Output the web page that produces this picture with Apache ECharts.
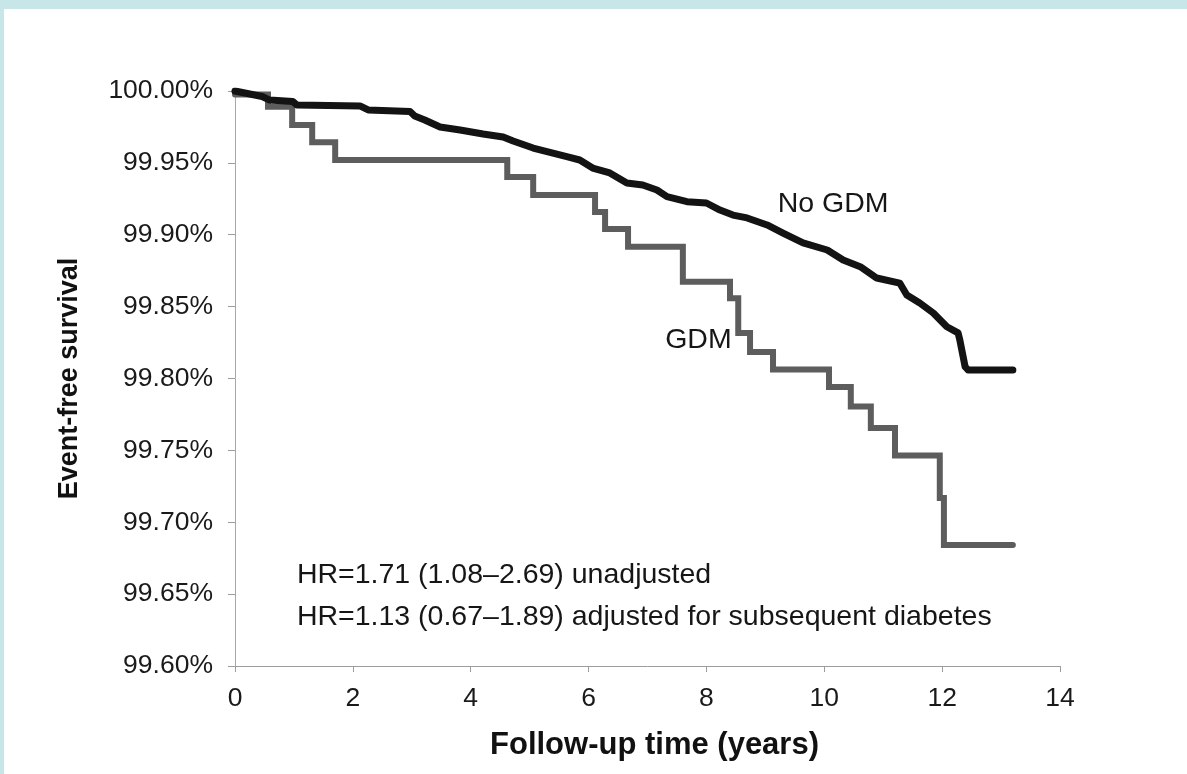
<!DOCTYPE html>
<html>
<head>
<meta charset="utf-8">
<title>Event-free survival by GDM status</title>
<script src="https://cdn.jsdelivr.net/npm/echarts@6/dist/echarts.min.js"></script>
<style>
  html, body { margin: 0; padding: 0; background: #ffffff; }
  #wrap { position: relative; width: 1187px; height: 774px; overflow: hidden; background: #ffffff; }
  #chart { position: absolute; left: 0; top: 0; width: 1187px; height: 774px; }
  .band-top { position: absolute; left: 0; top: 0; width: 1187px; height: 9px; background: #c8e5e8; }
  .band-left { position: absolute; left: 0; top: 0; width: 4px; height: 774px; background: #c8e5e8; }
</style>
</head>
<body>
<div id="wrap">
  <div id="chart"></div>
  <div class="band-top"></div>
  <div class="band-left"></div>
</div>
<script>
// Follow-up time (years) at each change of the survival estimate
const noGdmTime = [0, 0.46, 0.59, 0.98, 1.05, 2.12, 2.26, 2.97, 3.05, 3.22, 3.48, 3.82, 4.21, 4.55, 4.72,
  5.06, 5.63, 5.85, 6.07, 6.36, 6.65, 6.92, 7.16, 7.33, 7.67, 8.00, 8.23, 8.45, 8.69, 9.03, 9.30,
  9.64, 10.05, 10.32, 10.61, 10.89, 11.28, 11.40, 11.62, 11.85, 12.08, 12.27, 12.30, 12.39, 12.44, 13.2];
// Event-free survival (%) for women without GDM
const noGdmSurvival = [100, 99.9962, 99.9937, 99.9927, 99.9903, 99.9896, 99.9868, 99.9857, 99.9826, 99.9798,
  99.9750, 99.9729, 99.9701, 99.9680, 99.9652, 99.9603, 99.9543, 99.9520, 99.9464, 99.9430, 99.9360,
  99.9346, 99.9311, 99.9265, 99.9230, 99.9221, 99.9172, 99.9137, 99.9117, 99.9068, 99.9012, 99.8943,
  99.8894, 99.8824, 99.8778, 99.8699, 99.8664, 99.8581, 99.8525, 99.8456, 99.8360, 99.8317, 99.8268,
  99.8082, 99.8059, 99.8059];

// Kaplan-Meier step times (years) for women with GDM
const gdmTime = [0, 0.56, 0.97, 1.31, 1.70, 4.62, 5.06, 6.11, 6.28, 6.67, 7.60, 8.40, 8.54, 8.74, 9.13,
  10.08, 10.45, 10.79, 11.20, 11.96, 12.03, 13.2];
// Event-free survival (%) after each GDM step
const gdmSurvival = [99.9975, 99.9891, 99.9763, 99.9643, 99.9520, 99.9402, 99.9277, 99.9158, 99.9040, 99.8917,
  99.8673, 99.8558, 99.8317, 99.8184, 99.8063, 99.7941, 99.7805, 99.7656, 99.7464, 99.7169, 99.6842, 99.6842];

// Axis ticks
const xTicks = [0, 2, 4, 6, 8, 10, 12, 14];
const yTicks = [99.60, 99.65, 99.70, 99.75, 99.80, 99.85, 99.90, 99.95, 100.00];

// Text drawn inside the plot
const curveNames = ['No GDM', 'GDM'];
const hazardNotes = [
  'HR=1.71 (1.08\u20132.69) unadjusted',
  'HR=1.13 (0.67\u20131.89) adjusted for subsequent diabetes'
];

const FONT = '"Liberation Sans", Arial, Helvetica, sans-serif';
const pair = (xs, ys) => xs.map((x, i) => [x, ys[i]]);

const chart = echarts.init(document.getElementById('chart'), null, { renderer: 'canvas' });

const option = {
  animation: false,
  backgroundColor: 'transparent',
  grid: { left: 235, right: 127, top: 91, bottom: 108, containLabel: false },
  xAxis: {
    type: 'value',
    min: xTicks[0],
    max: xTicks[xTicks.length - 1],
    interval: 2,
    name: 'Follow-up time (years)',
    nameLocation: 'middle',
    nameGap: 64,
    nameTextStyle: { fontFamily: FONT, fontSize: 31, fontWeight: 'bold', color: '#111', padding: [0, 0, 0, 14] },
    axisLine: { show: true, lineStyle: { color: '#9c9c9c', width: 1 } },
    axisTick: { show: true, length: 6, lineStyle: { color: '#9c9c9c' } },
    axisLabel: { fontFamily: FONT, fontSize: 26.5, color: '#1a1a1a', margin: 19 },
    splitLine: { show: false }
  },
  yAxis: {
    type: 'value',
    min: yTicks[0],
    max: yTicks[yTicks.length - 1],
    interval: 0.05,
    name: 'Event-free survival',
    nameLocation: 'middle',
    nameRotate: 90,
    nameGap: 152,
    nameTextStyle: { fontFamily: FONT, fontSize: 27, fontWeight: 'bold', color: '#111' },
    axisLine: { show: true, lineStyle: { color: '#a8a8a8', width: 1 } },
    axisTick: { show: true, length: 7, lineStyle: { color: '#9c9c9c' } },
    axisLabel: {
      fontFamily: FONT, fontSize: 26.5, color: '#1a1a1a', margin: 22,
      formatter: v => v.toFixed(2) + '%'
    },
    splitLine: { show: false }
  },
  series: [
    {
      name: curveNames[0],
      type: 'line',
      data: pair(noGdmTime, noGdmSurvival),
      showSymbol: false,
      symbol: 'none',
      lineStyle: { color: '#131313', width: 7, cap: 'round', join: 'round' },
      z: 3
    },
    {
      name: curveNames[1],
      type: 'line',
      step: 'end',
      data: pair(gdmTime, gdmSurvival),
      showSymbol: false,
      symbol: 'none',
      lineStyle: { color: '#5d5d5d', width: 6, cap: 'round', join: 'miter' },
      z: 2
    }
  ]
};

chart.setOption(option);

// Annotations anchored in data coordinates
const notes = [
  { text: curveNames[0], at: [9.21, 99.9214] },
  { text: curveNames[1], at: [7.30, 99.8268] },
  { text: hazardNotes[0], at: [1.05, 99.6633] },
  { text: hazardNotes[1], at: [1.05, 99.6341] }
];

chart.setOption({
  graphic: notes.map(n => {
    const p = chart.convertToPixel({ gridIndex: 0 }, n.at);
    return {
      type: 'text',
      x: p[0],
      y: p[1],
      z: 10,
      style: {
        text: n.text,
        fontFamily: FONT,
        fontSize: 28.5,
        fill: '#161616',
        align: 'left',
        verticalAlign: 'middle'
      }
    };
  })
});
</script>
</body>
</html>
